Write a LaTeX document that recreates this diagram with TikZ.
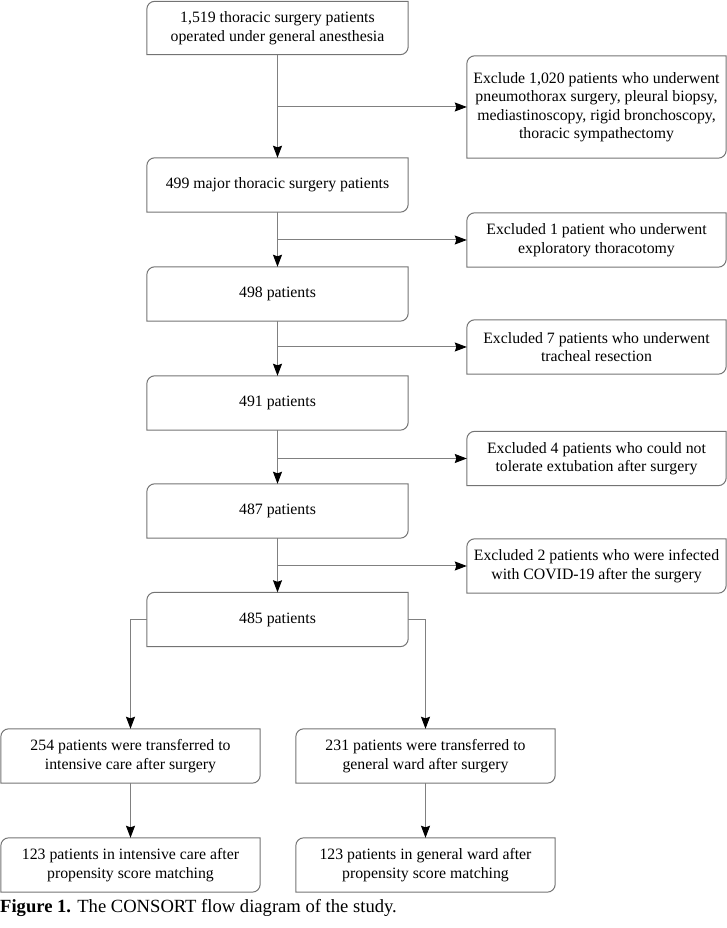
\documentclass[tikz,border=0pt]{standalone}
\usepackage{fontspec}
\setmainfont{Liberation Serif}
\usetikzlibrary{positioning, arrows.meta, calc}
\newcommand{\cornerbox}[1]{\draw[boxline] ([xshift=8pt]#1.north west) -- (#1.north east) -- ([yshift=8pt]#1.south east) arc[start angle=0,end angle=-90,radius=8pt] -- (#1.south west) -- ([yshift=-8pt]#1.north west) arc[start angle=180,end angle=90,radius=8pt] -- cycle;}

\begin{document}
\begin{tikzpicture}[x=1pt,y=1pt,
  every node/.style={font=\fontsize{15.8}{18.5}\selectfont, align=center, inner sep=0pt},
  mainbox/.style={minimum width=261pt, minimum height=54pt},
  exbox/.style={minimum width=259pt, minimum height=54pt},
  boxline/.style={draw=black!55, line width=1pt},
  arr/.style={draw=black!50, line width=1pt, -{Stealth[length=12pt,width=9pt,inset=1.5pt,color=black]}}]
\useasboundingbox (0,0) rectangle (727,928);
\node[mainbox, minimum height=53pt] (start) at (277.5,900) {1,519 thoracic surgery patients\\operated under general anesthesia};
\node[mainbox] (major) at (277.5,743) {499 major thoracic surgery patients};
\node[mainbox] (p498) at (277.5,634) {498 patients};
\node[mainbox] (p491) at (277.5,525) {491 patients};
\node[mainbox] (p487) at (277.5,417) {487 patients};
\node[mainbox] (p485) at (277.5,308.5) {485 patients};
\node[exbox, minimum height=102pt] (ex1) at (596.5,821) {Exclude 1,020 patients who underwent\\pneumothorax surgery, pleural biopsy,\\mediastinoscopy, rigid bronchoscopy,\\thoracic sympathectomy};
\node[exbox] (ex2) at (596.5,688) {Excluded 1 patient who underwent\\exploratory thoracotomy};
\node[exbox] (ex3) at (596.5,581) {Excluded 7 patients who underwent\\tracheal resection};
\node[exbox] (ex4) at (596.5,469.5) {Excluded 4 patients who could not\\tolerate extubation after surgery};
\node[exbox] (ex5) at (596.5,362) {Excluded 2 patients who were infected\\with COVID-19 after the surgery};
\node[exbox] (icu) at (130.5,172) {254 patients were transferred to\\intensive care after surgery};
\node[exbox] (ward) at (425.5,172) {231 patients were transferred to\\general ward after surgery};
\node[exbox] (icum) at (130.5,63) {123 patients in intensive care after\\propensity score matching};
\node[exbox] (wardm) at (425.5,63) {123 patients in general ward after\\propensity score matching};
\foreach \n in {start,major,p498,p491,p487,p485,ex1,ex2,ex3,ex4,ex5,icu,ward,icum,wardm}
  \cornerbox{\n};
\foreach \a/\b/\e in {start/major/ex1, major/p498/ex2, p498/p491/ex3, p491/p487/ex4, p487/p485/ex5}{
  \draw[arr] (\a.south) -- (\b.north);
  \draw[arr] (\a.south |- \e.west) -- (\e.west);
}
\draw[arr] (p485.west) -| (icu.north);
\draw[arr] (p485.east) -| (ward.north);
\draw[arr] (icu.south) -- (icum.north);
\draw[arr] (ward.south) -- (wardm.north);
\node[anchor=west, font=\fontsize{18.6}{22}\selectfont] (cap) at (0,20) {\textbf{Figure 1.} The CONSORT flow diagram of the study.};
\end{tikzpicture}
\end{document}
